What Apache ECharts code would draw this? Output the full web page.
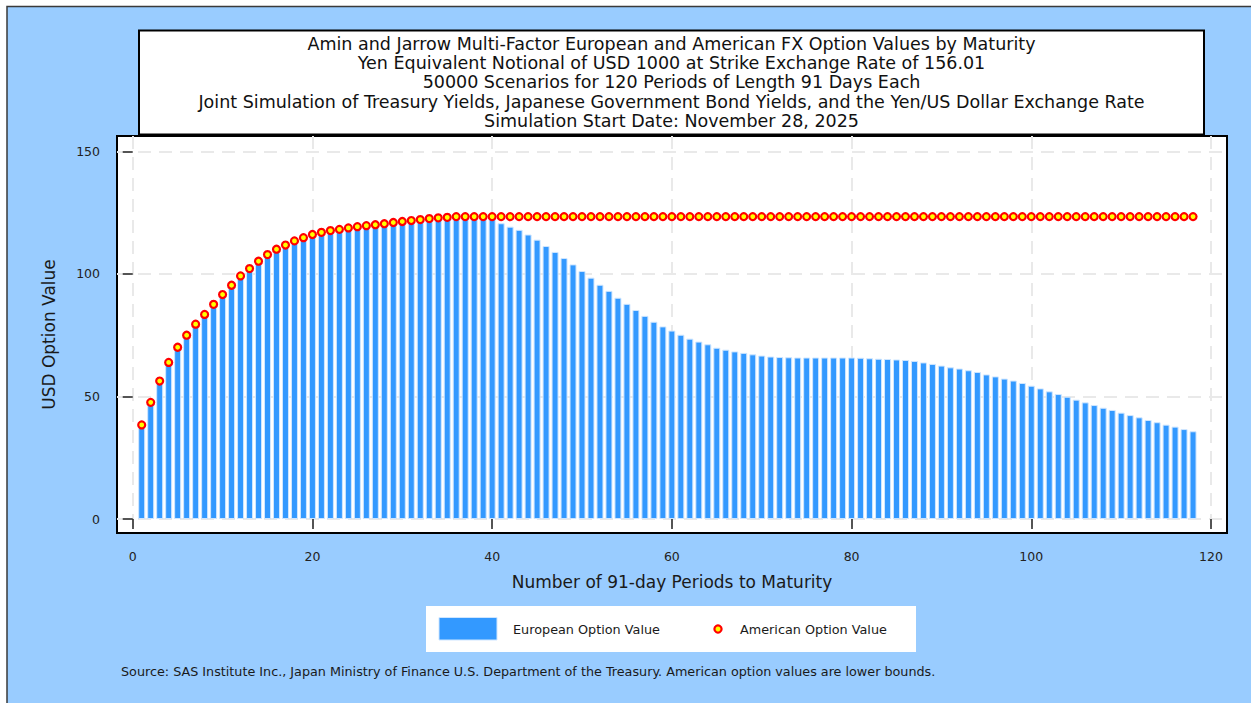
<!DOCTYPE html>
<html>
<head>
<meta charset="utf-8">
<script src="https://cdn.jsdelivr.net/npm/echarts@6/dist/echarts.min.js"></script>
<style>
  html, body { margin: 0; padding: 0; background: #fff; }
  #fx_chart { width: 1251px; height: 703px; }
</style>
</head>
<body>
<div id="fx_chart"></div>
<script>
// values
var periods = [1,2,3,4,5,6,7,8,9,10,11,12,13,14,15,16,17,18,19,20,21,22,23,24,25,26,27,28,29,30,
  31,32,33,34,35,36,37,38,39,40,41,42,43,44,45,46,47,48,49,50,51,52,53,54,55,56,57,58,59,60,
  61,62,63,64,65,66,67,68,69,70,71,72,73,74,75,76,77,78,79,80,81,82,83,84,85,86,87,88,89,90,
  91,92,93,94,95,96,97,98,99,100,101,102,103,104,105,106,107,108,109,110,111,112,113,114,115,116,117,118];

var europeanValues = [38.4,47.6,56.3,63.9,70.1,75.0,79.5,83.5,87.6,91.6,95.4,99.2,102.2,105.2,107.9,110.1,111.8,113.5,114.8,116.1,
  117.0,117.7,118.2,118.8,119.3,119.7,120.1,120.5,121.0,121.4,121.8,122.2,122.6,122.9,123.1,123.4,123.4,123.4,123.4,123.4,
  120.7,119.3,118.0,116.1,114.0,111.4,109.0,106.5,103.9,101.2,98.5,95.6,93.1,90.3,87.8,85.3,82.9,80.5,78.6,76.9,
  75.2,73.6,72.4,71.3,69.9,69.1,68.4,67.8,67.2,66.7,66.3,66.1,66.0,65.9,65.9,65.9,65.9,65.9,65.9,65.9,
  65.8,65.6,65.4,65.3,65.1,64.9,64.5,63.9,63.3,62.6,61.9,61.4,60.7,60.0,59.0,58.2,57.3,56.5,55.5,54.4,
  53.3,52.1,51.0,49.9,48.7,47.6,46.5,45.4,44.5,43.4,42.4,41.5,40.4,39.5,38.5,37.7,36.7,35.8];

var americanValues = [38.4,47.6,56.3,63.9,70.1,75.0,79.5,83.5,87.6,91.6,95.4,99.2,102.2,105.2,107.9,110.1,111.8,113.5,114.8,116.1,
  117.0,117.7,118.2,118.8,119.3,119.7,120.1,120.5,121.0,121.4,121.8,122.2,122.6,122.9,123.1,123.4,123.4,123.4,123.4,123.4,
  123.4,123.4,123.4,123.4,123.4,123.4,123.4,123.4,123.4,123.4,123.4,123.4,123.4,123.4,123.4,123.4,123.4,123.4,123.4,123.4,
  123.4,123.4,123.4,123.4,123.4,123.4,123.4,123.4,123.4,123.4,123.4,123.4,123.4,123.4,123.4,123.4,123.4,123.4,123.4,123.4,
  123.4,123.4,123.4,123.4,123.4,123.4,123.4,123.4,123.4,123.4,123.4,123.4,123.4,123.4,123.4,123.4,123.4,123.4,123.4,123.4,
  123.4,123.4,123.4,123.4,123.4,123.4,123.4,123.4,123.4,123.4,123.4,123.4,123.4,123.4,123.4,123.4,123.4,123.4];

var xTicks = [0, 20, 40, 60, 80, 100, 120];
var yTicks = [0, 50, 100, 150];

var titleLines = [
  'Amin and Jarrow Multi-Factor European and American FX Option Values by Maturity',
  'Yen Equivalent Notional of USD 1000 at Strike Exchange Rate of 156.01',
  '50000 Scenarios for 120 Periods of Length 91 Days Each',
  'Joint Simulation of Treasury Yields, Japanese Government Bond Yields, and the Yen/US Dollar Exchange Rate',
  'Simulation Start Date: November 28, 2025'
];
var sourceNote = 'Source: SAS Institute Inc., Japan Ministry of Finance U.S. Department of the Treasury. American option values are lower bounds.';

var FONT = 'DejaVu Sans';

var dom = document.getElementById("fx_chart");
var myChart = echarts.init(dom, null, {renderer: 'svg'});

var europeanData = periods.map(function (p, i) { return [p, europeanValues[i]]; });
var americanData = periods.map(function (p, i) { return [p, americanValues[i]]; });

var gridLine = {show: true, lineStyle: {color: '#e9e9e9', width: 2, type: [13, 8]}};

option = {
    backgroundColor: '#99CCFF',
    animation: false,
    grid: {
        left: 117, top: 136, width: 1110, height: 397,
        show: true,
        backgroundColor: '#ffffff',
        borderColor: '#000000',
        borderWidth: 2
    },
    xAxis: [{
        type: 'value',
        min: -1.75,
        max: 121.78,
        name: 'Number of 91-day Periods to Maturity',
        nameLocation: 'middle',
        nameGap: 40,
        nameTextStyle: {fontFamily: FONT, fontSize: 17, color: '#1a1a1a'},
        axisLine: {show: false},
        axisTick: {show: true, customValues: xTicks, length: 10, lineStyle: {color: '#222', width: 1.5}},
        axisLabel: {customValues: xTicks, margin: 17, fontFamily: FONT, fontSize: 12.5, color: '#222'},
        splitLine: gridLine
    }],
    yAxis: [{
        type: 'value',
        min: -5.71,
        max: 156.3,
        name: 'USD Option Value',
        nameLocation: 'middle',
        nameGap: 60,
        nameRotate: 90,
        nameTextStyle: {fontFamily: FONT, fontSize: 17, color: '#1a1a1a'},
        axisLine: {show: false},
        axisTick: {show: true, customValues: yTicks, length: 10, lineStyle: {color: '#222', width: 1.5}},
        axisLabel: {customValues: yTicks, margin: 17, fontFamily: FONT, fontSize: 12.5, color: '#222'},
        splitLine: gridLine
    }],
    series: [{
        name: 'European Option Value',
        type: 'bar',
        barWidth: 7,
        itemStyle: {color: '#3399FF', borderColor: '#cfe6ff', borderWidth: 1},
        data: europeanData,
        z: 2
    }, {
        name: 'American Option Value',
        type: 'scatter',
        symbol: 'circle',
        symbolSize: 7,
        itemStyle: {color: '#FFFF00', borderColor: '#FF0000', borderWidth: 2.2, opacity: 1},
        data: americanData,
        z: 3
    }],
    graphic: [
        // white margin and outer frame
        {type: 'rect', shape: {x: 0, y: 0, width: 1251, height: 6}, style: {fill: '#ffffff'}, silent: true},
        {type: 'rect', shape: {x: 0, y: 0, width: 7, height: 703}, style: {fill: '#ffffff'}, silent: true},
        {type: 'polyline', shape: {points: [[7, 703], [7, 6.5], [1251, 6.5]]}, style: {stroke: '#3a3a3a', lineWidth: 1.5, fill: null}, silent: true},
        // title box
        {type: 'rect', shape: {x: 139, y: 30.5, width: 1065, height: 104}, style: {fill: '#ffffff', stroke: '#000000', lineWidth: 2}, silent: true},
        {type: 'text', x: 671.5, y: 34, style: {
            text: titleLines.join('\n'), fontSize: 17.5, fontFamily: FONT, lineHeight: 19.3,
            fill: '#111', align: 'center', textAlign: 'center', verticalAlign: 'top', textVerticalAlign: 'top'
        }, silent: true},
        // legend box
        {type: 'rect', shape: {x: 426, y: 606, width: 490, height: 46}, style: {fill: '#ffffff'}, silent: true},
        {type: 'rect', shape: {x: 439, y: 617.5, width: 58, height: 22.5}, style: {fill: '#3399FF', stroke: '#cfe6ff', lineWidth: 1}, silent: true},
        {type: 'text', x: 513, y: 629, style: {
            text: 'European Option Value', fontSize: 12.8, fontFamily: FONT, fill: '#1a1a1a',
            align: 'left', textAlign: 'left', verticalAlign: 'middle', textVerticalAlign: 'middle'
        }, silent: true},
        {type: 'circle', shape: {cx: 718, cy: 629, r: 3.6}, style: {fill: '#FFFF00', stroke: '#FF0000', lineWidth: 2.2}, silent: true},
        {type: 'text', x: 740, y: 629, style: {
            text: 'American Option Value', fontSize: 12.8, fontFamily: FONT, fill: '#1a1a1a',
            align: 'left', textAlign: 'left', verticalAlign: 'middle', textVerticalAlign: 'middle'
        }, silent: true},
        // source note
        {type: 'text', x: 121, y: 671, style: {
            text: sourceNote, fontSize: 12.75, fontFamily: FONT, fill: '#1a1a1a',
            align: 'left', textAlign: 'left', verticalAlign: 'middle', textVerticalAlign: 'middle'
        }, silent: true}
    ]
};
if (option && typeof option === "object") {
    myChart.setOption(option, true);
}
</script>
</body>
</html>
